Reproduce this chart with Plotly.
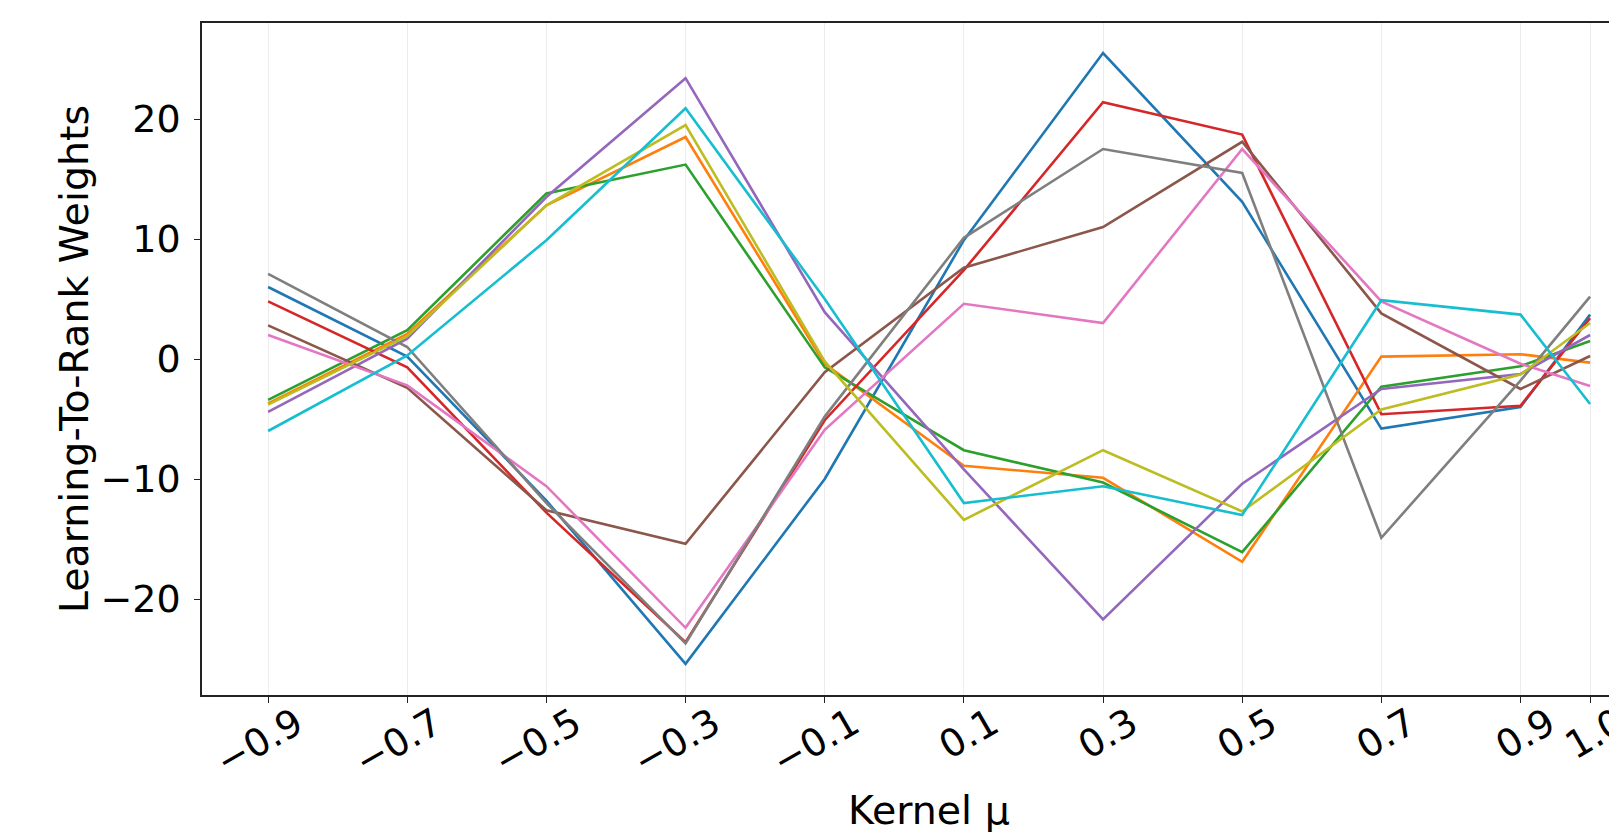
import plotly.graph_objects as go

# Kernel mu values (x axis)
kernel_mu = [-0.9, -0.7, -0.5, -0.3, -0.1, 0.1, 0.3, 0.5, 0.7, 0.9, 1.0]
x_tick_labels = ["\u22120.9", "\u22120.7", "\u22120.5", "\u22120.3", "\u22120.1",
                 "0.1", "0.3", "0.5", "0.7", "0.9", "1.0"]
y_tick_values = [-20, -10, 0, 10, 20]
y_tick_labels = ["\u221220", "\u221210", "0", "10", "20"]

# Learning-to-rank weights, one series per line (tab10 order)
s_blue   = [6.0, 0.2, -11.8, -25.4, -10.0, 9.9, 25.5, 13.1, -5.8, -4.0, 3.7]
s_orange = [-3.7, 2.1, 12.8, 18.5, -0.4, -8.9, -9.9, -16.9, 0.2, 0.4, -0.3]
s_green  = [-3.4, 2.4, 13.8, 16.2, -0.7, -7.6, -10.3, -16.1, -2.3, -0.6, 1.5]
s_red    = [4.8, -0.7, -12.8, -23.6, -5.1, 7.4, 21.4, 18.7, -4.6, -3.9, 3.4]
s_purple = [-4.4, 1.7, 13.5, 23.4, 3.9, -9.2, -21.7, -10.4, -2.5, -1.25, 2.0]
s_brown  = [2.8, -2.4, -12.6, -15.4, -1.1, 7.6, 11.0, 18.1, 3.8, -2.5, 0.25]
s_pink   = [2.0, -2.2, -10.6, -22.4, -5.9, 4.6, 3.0, 17.5, 4.8, -0.4, -2.25]
s_gray   = [7.1, 1.0, -12.0, -23.7, -4.8, 10.1, 17.5, 15.5, -14.9, -1.8, 5.2]
s_olive  = [-3.8, 1.9, 12.8, 19.5, -0.2, -13.4, -7.6, -12.7, -4.2, -1.3, 3.0]
s_cyan   = [-6.0, 0.3, 9.9, 20.9, 5.0, -12.0, -10.6, -13.0, 4.9, 3.7, -3.75]

series = [s_blue, s_orange, s_green, s_red, s_purple,
          s_brown, s_pink, s_gray, s_olive, s_cyan]
colors = ["#1f77b4", "#ff7f0e", "#2ca02c", "#d62728", "#9467bd",
          "#8c564b", "#e377c2", "#7f7f7f", "#bcbd22", "#17becf"]

FONT = "DejaVu Sans"

fig = go.Figure()
for ys, c in zip(series, colors):
    fig.add_trace(go.Scatter(x=kernel_mu, y=ys, mode="lines",
                             line=dict(color=c, width=2.6), showlegend=False,
                             hoverinfo="skip"))

fig.update_layout(
    width=1609, height=825,
    margin=dict(l=194, r=0, t=15, b=138),
    paper_bgcolor="white", plot_bgcolor="white",
    font=dict(family=FONT, color="black"),
    showlegend=False,
)

fig.update_xaxes(
    range=[-0.995, 1.0387], automargin=False,
    tickmode="array", tickvals=kernel_mu, ticktext=x_tick_labels,
    tickangle=-30, tickfont=dict(family=FONT, size=38, color="black"),
    ticks="outside", ticklen=6, tickwidth=1.3, tickcolor="#222",
    ticklabelshift=28, ticklabelstandoff=-16, ticklabeloverflow="allow",
    showline=True, linecolor="#222", linewidth=1.6, mirror=True,
    showgrid=True, gridcolor="#ececec", gridwidth=1,
    zeroline=False,
)
fig.update_yaxes(
    range=[-28, 28],
    tickmode="array", tickvals=y_tick_values, ticktext=y_tick_labels,
    tickfont=dict(family=FONT, size=38, color="black"),
    ticks="outside", ticklen=6, tickwidth=1.3, tickcolor="#222",
    ticklabelstandoff=6,
    showline=True, linecolor="#222", linewidth=1.6, mirror=False,
    showgrid=False, zeroline=False,
    title=dict(text="Learning-To-Rank Weights",
               font=dict(family=FONT, size=39.5, color="black"), standoff=0),
)

# x-axis title, centred on the full axes box (which runs past the right edge)
fig.add_annotation(
    text="Kernel \u03bc", xref="x", yref="paper", x=0.05, y=0,
    yshift=-90, xanchor="center", yanchor="top", showarrow=False,
    font=dict(family=FONT, size=39.5, color="black"),
)

fig.write_html("out.html")
